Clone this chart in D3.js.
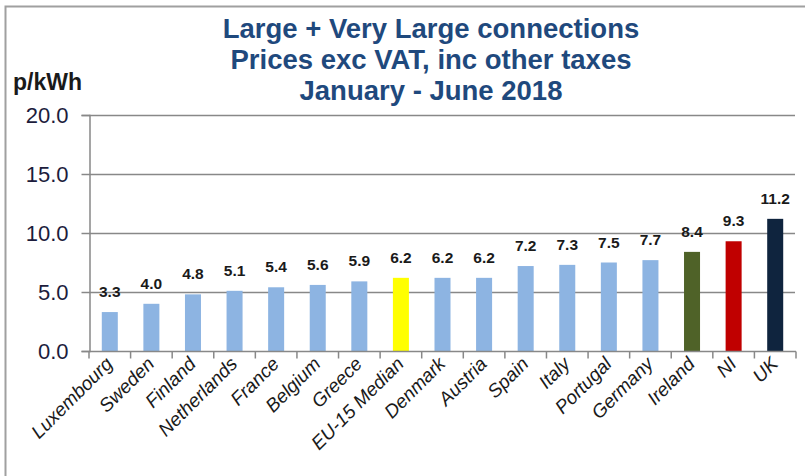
<!DOCTYPE html>
<html><head><meta charset="utf-8">
<script src="https://cdn.jsdelivr.net/npm/d3@7"></script>
<style>
body{margin:0;background:#fff;}
svg{display:block;font-family:"Liberation Sans",Arial,sans-serif;}
</style></head>
<body>
<svg id="chart" width="805" height="476"></svg>
<script>
const categories = ["Luxembourg","Sweden","Finland","Netherlands","France","Belgium","Greece","EU-15 Median","Denmark","Austria","Spain","Italy","Portugal","Germany","Ireland","NI","UK"];
const values = [3.3,4.0,4.8,5.1,5.4,5.6,5.9,6.2,6.2,6.2,7.2,7.3,7.5,7.7,8.4,9.3,11.2];
const barColors = ["#8DB4E2","#8DB4E2","#8DB4E2","#8DB4E2","#8DB4E2","#8DB4E2","#8DB4E2","#FFFF00","#8DB4E2","#8DB4E2","#8DB4E2","#8DB4E2","#8DB4E2","#8DB4E2","#4F6228","#C00000","#0F243E"];
const yTicks = [0,5,10,15,20];
const titleLines = ["Large + Very Large connections","Prices exc VAT, inc other taxes","January - June 2018"];
const yUnit = "p/kWh";

const svg = d3.select("#chart");
const plotLeft = 89, plotRight = 796, plotTop = 115, plotBottom = 351;

// outer frame
svg.append("path").attr("d","M5.5,476 V6.5 H805").attr("fill","none").attr("stroke","#a0a0a0").attr("stroke-width",2);

const x = d3.scaleBand().domain(categories).range([plotLeft,plotRight]).paddingInner(0.615).paddingOuter(0.3075);
const y = d3.scaleLinear().domain([0,20]).range([plotBottom,plotTop]);

// gridlines
svg.append("g").selectAll("line").data(yTicks.filter(d=>d>0)).join("line")
  .attr("x1",plotLeft).attr("x2",795).attr("y1",d=>y(d)+0.5).attr("y2",d=>y(d)+0.5)
  .attr("stroke","#888").attr("stroke-width",1.5);

// y axis
const yAxis = svg.append("g").attr("transform",`translate(${plotLeft+0.5},0)`)
  .call(d3.axisLeft(y).tickValues(yTicks).tickSize(8).tickPadding(13).tickFormat(d3.format(".1f")));
yAxis.select(".domain").attr("stroke","#888").attr("stroke-width",1.5);
yAxis.selectAll(".tick line").attr("stroke","#888").attr("stroke-width",1.5);
yAxis.selectAll(".tick text").attr("font-size",22).attr("fill","#1c1c3c")
  .attr("font-family","'Liberation Sans',Arial,sans-serif").attr("dy","0.36em");

// bars
svg.append("g").selectAll("rect").data(values).join("rect")
  .attr("x",(d,i)=>x(categories[i])).attr("width",x.bandwidth())
  .attr("y",d=>y(d)).attr("height",d=>plotBottom-y(d))
  .attr("fill",(d,i)=>barColors[i]);

// x axis
const step = x.step();
const xAxisG = svg.append("g").attr("transform",`translate(0,${plotBottom+0.5})`);
xAxisG.append("line").attr("x1",plotLeft).attr("x2",plotRight).attr("stroke","#888").attr("stroke-width",1.5);
const boundaries = d3.range(categories.length+1).map(i=>plotLeft+i*step);
xAxisG.selectAll("line.tk").data(boundaries).join("line").attr("class","tk")
  .attr("x1",d=>d).attr("x2",d=>d).attr("y1",0).attr("y2",7)
  .attr("stroke","#888").attr("stroke-width",1.5);

// category labels
svg.append("g").selectAll("text").data(categories).join("text")
  .attr("transform",d=>`translate(${x(d)+x.bandwidth()/2+4},${plotBottom+14}) rotate(-45)`)
  .attr("text-anchor","end").attr("font-size",19).attr("fill","#1a1a1a").attr("font-style","italic")
  .text(d=>d);

// data labels
svg.append("g").selectAll("text").data(values).join("text")
  .attr("x",(d,i)=>x(categories[i])+x.bandwidth()/2).attr("y",d=>y(d)-15)
  .attr("text-anchor","middle").attr("font-size",15.5).attr("font-weight","bold").attr("fill","#1a1a1a")
  .text(d=>d3.format(".1f")(d));

// title
svg.append("g").selectAll("text").data(titleLines).join("text")
  .attr("x",431).attr("y",(d,i)=>38+i*31)
  .attr("text-anchor","middle").attr("font-size",27.5).attr("font-weight","bold").attr("fill","#1F497D")
  .text(d=>d);

// unit label
svg.append("text").attr("x",13).attr("y",90).attr("font-size",23).attr("font-weight","bold").attr("fill","#1a1a1a").text(yUnit);
</script>
</body></html>
